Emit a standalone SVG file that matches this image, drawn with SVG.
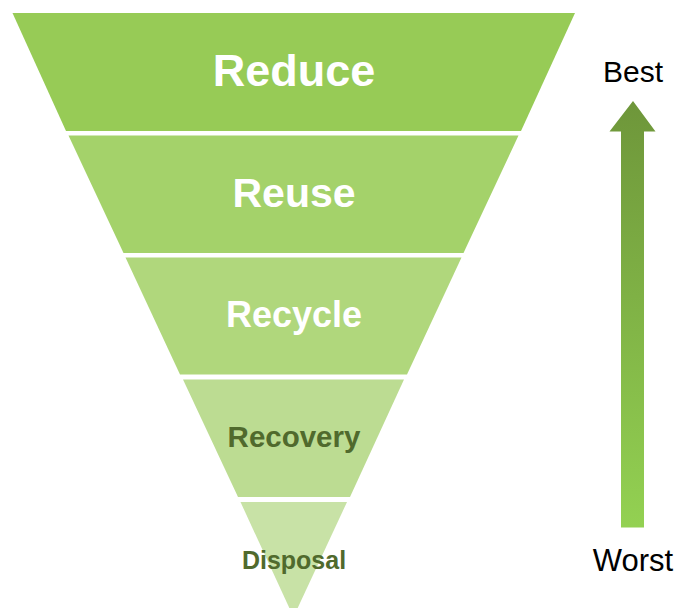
<svg xmlns="http://www.w3.org/2000/svg" width="684" height="608" viewBox="0 0 684 608">
  <defs>
    <linearGradient id="arrowFill" x1="0" y1="0" x2="0" y2="1">
      <stop offset="0" stop-color="#6e963a"/>
      <stop offset="1" stop-color="#93d152"/>
    </linearGradient>
    <style>
      .lbl { font-family: "Liberation Sans", Arial, sans-serif; font-weight: bold; text-anchor: middle; }
      .light { fill: #ffffff; }
      .dark { fill: #506a2d; }
      .scale { font-family: "Liberation Sans", Arial, sans-serif; fill: #000000; text-anchor: middle; }
    </style>
  </defs>
  <rect width="684" height="608" fill="#ffffff"/>

  <!-- Waste hierarchy: inverted triangle split into five bands -->
  <g id="reduce">
    <polygon points="12.5,13 575,13 521,131 66,131" fill="#97cb56"/>
    <text class="lbl light" x="294" y="86" font-size="45">Reduce</text>
  </g>
  <g id="reuse">
    <polygon points="68.5,135.5 518.5,135.5 463.5,253 123.5,253" fill="#a4d26a"/>
    <text class="lbl light" x="294" y="207" font-size="41">Reuse</text>
  </g>
  <g id="recycle">
    <polygon points="125.5,257.5 461.5,257.5 407,374.5 180,374.5" fill="#b0d77c"/>
    <text class="lbl light" x="294" y="327" font-size="36">Recycle</text>
  </g>
  <g id="recovery">
    <polygon points="183,379.5 404,379.5 350,497 238,497" fill="#bcdc92"/>
    <text class="lbl dark" x="294" y="447" font-size="29.5">Recovery</text>
  </g>
  <g id="disposal">
    <polygon points="240.5,502 347,502 293.5,617" fill="#c8e2a6"/>
    <text class="lbl dark" x="294" y="569" font-size="25">Disposal</text>
  </g>

  <!-- Best / Worst scale -->
  <g id="scale-arrow">
    <polygon points="633,101 655.5,131.5 644,131.5 644,527.5 621,527.5 621,131.5 609.5,131.5" fill="url(#arrowFill)"/>
  </g>
  <g id="best">
    <text class="scale" x="633" y="82" font-size="30">Best</text>
  </g>
  <g id="worst">
    <text class="scale" x="633" y="571" font-size="31">Worst</text>
  </g>
</svg>
